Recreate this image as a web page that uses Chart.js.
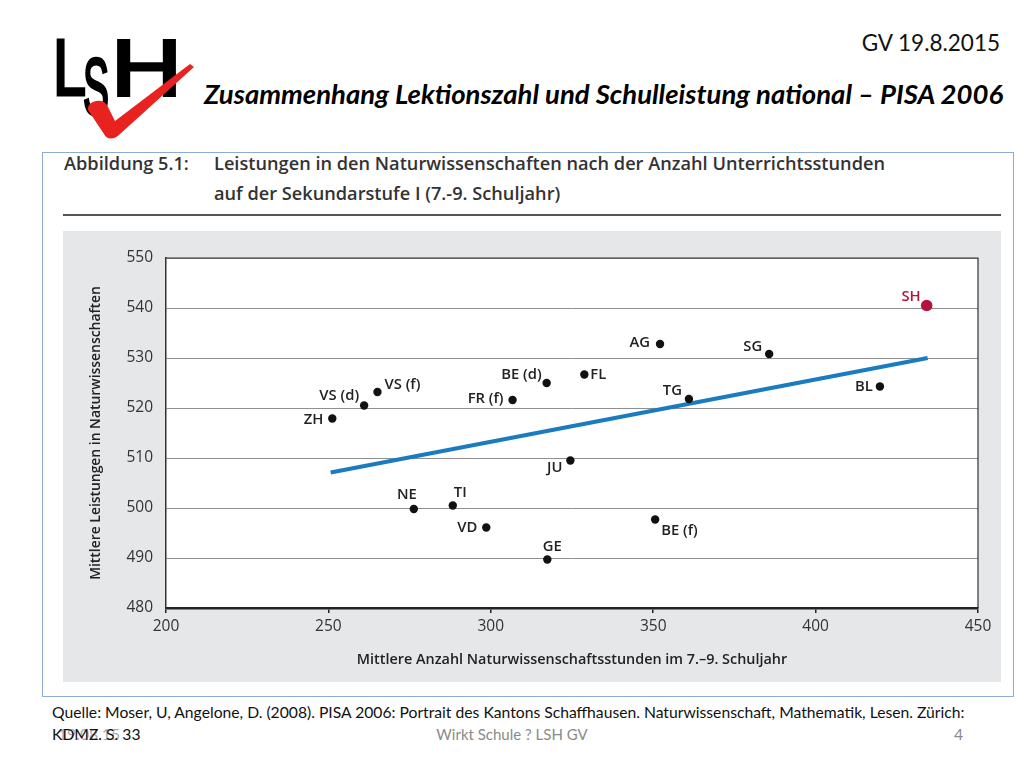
<!DOCTYPE html>
<html>
<head>
<meta charset="utf-8">
<script src="https://cdn.jsdelivr.net/npm/chart.js@4.4.1/dist/chart.umd.min.js"></script>
<style>
  body { margin: 0; background: #fff; }
  #slide { position: relative; width: 1024px; height: 768px; overflow: hidden; font-family: Lato, "Open Sans", sans-serif; }
  .abs { position: absolute; white-space: nowrap; }
  #logo { left: 40px; top: 25px; }
  #date { right: 24px; top: 29px; font-size: 22.5px; color: #111; }
  #title { left: 204px; top: 77px; font-size: 27.5px; font-weight: 700; font-style: italic; color: #000; }
  #box { left: 42px; top: 152px; width: 970px; height: 543px; border: 1px solid #8eaad6; }
  .figt { font-family: "Open Sans", sans-serif; font-weight: 600; font-size: 18.2px; color: #333; }
  #rule { left: 63px; top: 214px; width: 938px; height: 2px; background: #555; }
  #panel { left: 63px; top: 231px; width: 938px; height: 451px; background: #e6e7e9; }
  .src { font-size: 15.7px; color: #111; }
  #foot { left: 0; width: 1024px; top: 725px; text-align: center; font-size: 15px; color: #8a8a8a; }
</style>
</head>
<body>
<div id="slide">
  <svg id="logo" class="abs" width="170" height="130" viewBox="40 25 170 130">
    <g font-family="Liberation Sans, Arial, sans-serif" font-size="80" font-weight="400" fill="#000" stroke="#000" stroke-width="3.2">
      <text x="53" y="95" textLength="33" lengthAdjust="spacingAndGlyphs">L</text>
      <text x="83" y="114" textLength="26" lengthAdjust="spacingAndGlyphs">S</text>
      <text x="111" y="95" textLength="71" lengthAdjust="spacingAndGlyphs">H</text>
    </g>
    <path d="M88,110 C87,100 104,97 108,107 L115,121 L190,64 L194,67 L120,134 C114,140 107,140 104,134 Z" fill="#e8231f"/>
  </svg>
  <div id="date" class="abs">GV 19.8.2015</div>
  <div id="title" class="abs">Zusammenhang Lektionszahl und Schulleistung national – PISA 2006</div>
  <div id="box" class="abs"></div>
  <div class="abs figt" style="left:64px; top:151px;">Abbildung 5.1:</div>
  <div class="abs figt" style="left:214px; top:151px;">Leistungen in den Naturwissenschaften nach der Anzahl Unterrichtsstunden</div>
  <div class="abs figt" style="left:214px; top:181px;">auf der Sekundarstufe I (7.-9. Schuljahr)</div>
  <div id="rule" class="abs"></div>
  <div id="panel" class="abs"><canvas id="chart"></canvas></div>
  <div class="abs src" style="left:52px; top:703px;">Quelle: Moser, U, Angelone, D. (2008). PISA 2006: Portrait des Kantons Schaffhausen. Naturwissenschaft, Mathematik, Lesen. Zürich:</div>
  <div class="abs src" style="left:58px; top:725px; color:#aaa;">19.08.15</div>
  <div class="abs src" style="left:52px; top:725px;">KDMZ. S. 33</div>
  <div id="foot" class="abs">Wirkt Schule ? LSH GV</div>
  <div class="abs src" style="left:954px; top:725px; color:#8a8a8a;">4</div>
</div>

<script>
// Cantons with their mean science hours (grade 7-9) and mean science score
const cantons = ['ZH', 'VS (d)', 'VS (f)', 'FR (f)', 'BE (d)', 'FL', 'AG', 'SG', 'TG', 'BL',
                 'JU', 'NE', 'TI', 'VD', 'GE', 'BE (f)'];
const hours  = [251.2, 261, 265.1, 306.7, 317.2, 328.8, 352.1, 385.7, 361, 419.8,
                324.5, 276.3, 288.3, 298.6, 317.4, 350.6];
const scores = [517.9, 520.5, 523.2, 521.6, 525, 526.7, 532.8, 530.8, 521.8, 524.3,
                509.5, 499.8, 500.5, 496.1, 489.7, 497.7];

// Schaffhausen highlighted
const shName = ['SH'];
const shHours = [434.2];
const shScores = [540.5];

// regression line end points
const trendHours = [250.7, 434.5];
const trendScores = [507.1, 530.0];

const xTicks = [200, 250, 300, 350, 400, 450];
const yTicks = [480, 490, 500, 510, 520, 530, 540, 550];

// where each label sits relative to its dot: [dx, dy, textAlign]
const labelPlace = {
    'ZH': [-9, 1, 'right'],
    'VS (d)': [-5, -10, 'right'],
    'VS (f)': [7, -7, 'left'],
    'FR (f)': [-9, -1, 'right'],
    'BE (d)': [-5, -8, 'right'],
    'FL': [6, 0, 'left'],
    'AG': [-10, -1, 'right'],
    'SG': [-7, -7, 'right'],
    'TG': [-7, -8, 'right'],
    'BL': [-7, 0, 'right'],
    'JU': [-8, 7, 'right'],
    'NE': [-7, -14, 'center'],
    'TI': [1, -13, 'left'],
    'VD': [-9, 0, 'right'],
    'GE': [5, -13, 'center'],
    'BE (f)': [6, 11, 'left'],
    'SH': [-6, -9, 'right']
};

const toPoints = (xs, ys) => xs.map((x, i) => ({ x: x, y: ys[i] }));

// white plot area with a thin frame
const plotFrame = {
    id: 'plotFrame',
    beforeDraw(chart) {
        const a = chart.chartArea, ctx = chart.ctx;
        ctx.save();
        ctx.fillStyle = '#fff';
        ctx.fillRect(a.left, a.top, a.right - a.left, a.bottom - a.top);
        ctx.restore();
    },
    afterDraw(chart) {
        const a = chart.chartArea, ctx = chart.ctx;
        ctx.save();
        ctx.strokeStyle = '#333';
        ctx.lineWidth = 1.2;
        ctx.beginPath();
        ctx.moveTo(a.left, a.top);
        ctx.lineTo(a.right, a.top);
        ctx.lineTo(a.right, a.bottom);
        ctx.stroke();
        ctx.restore();
    }
};

// canton names next to the dots
const pointLabels = {
    id: 'pointLabels',
    afterDatasetsDraw(chart) {
        const ctx = chart.ctx;
        chart.data.datasets.forEach(function(ds, i) {
            if (!ds.names) return;
            chart.getDatasetMeta(i).data.forEach(function(pt, j) {
                const p = labelPlace[ds.names[j]];
                ctx.save();
                ctx.font = '600 14.8px "Open Sans", sans-serif';
                ctx.fillStyle = ds.labelColor;
                ctx.textAlign = p[2];
                ctx.textBaseline = 'middle';
                ctx.fillText(ds.names[j], pt.x + p[0], pt.y + p[1]);
                ctx.restore();
            });
        });
    }
};

const ctx = document.getElementById('chart').getContext('2d');
const chart = new Chart(ctx, {
    type: 'scatter',
    data: {
        datasets: [{
            data: toPoints(shHours, shScores),
            names: shName,
            labelColor: '#b5123e',
            backgroundColor: '#b5123e',
            borderWidth: 0,
            pointRadius: 5.8
        }, {
            data: toPoints(hours, scores),
            names: cantons,
            labelColor: '#222',
            backgroundColor: '#111',
            borderWidth: 0,
            pointRadius: 4.2
        }, {
            type: 'line',
            data: toPoints(trendHours, trendScores),
            borderColor: '#1b7bc0',
            borderWidth: 4,
            pointRadius: 0,
            fill: false
        }]
    },
    options: {
        responsive: true,
        maintainAspectRatio: false,
        animation: false,
        layout: { padding: { left: 0, top: 27, right: 23, bottom: 0 } },
        plugins: {
            legend: { display: false },
            tooltip: { enabled: false }
        },
        scales: {
            x: {
                type: 'linear',
                min: 200,
                max: 450,
                afterBuildTicks: s => { s.ticks = xTicks.map(v => ({ value: v })); },
                afterFit: s => { s.height = 74; },
                grid: { drawOnChartArea: false, drawTicks: true, tickLength: 5, color: '#222', lineWidth: 1.5 },
                border: { color: '#222', width: 2.5 },
                ticks: { color: '#333', padding: 4, font: { family: 'Open Sans', size: 15.5 } },
                title: {
                    display: true,
                    text: 'Mittlere Anzahl Naturwissenschaftsstunden im 7.–9. Schuljahr',
                    color: '#222',
                    font: { family: 'Open Sans', size: 14.4, weight: '600' },
                    padding: { top: 0, bottom: 13.4 }
                }
            },
            y: {
                min: 480,
                max: 550,
                afterBuildTicks: s => { s.ticks = yTicks.map(v => ({ value: v })); },
                afterFit: s => { s.width = 103; },
                grid: { drawTicks: false, color: '#8f8f8f', lineWidth: 1 },
                border: { color: '#333', width: 1.5 },
                ticks: { color: '#333', padding: 13, font: { family: 'Open Sans', size: 15.5 } },
                title: {
                    display: true,
                    text: 'Mittlere Leistungen in Naturwissenschaften',
                    color: '#222',
                    font: { family: 'Open Sans', size: 13.9, weight: '600' },
                    padding: { top: 24.7, bottom: 0 }
                }
            }
        }
    },
    plugins: [plotFrame, pointLabels]
});
</script>
</body>
</html>
